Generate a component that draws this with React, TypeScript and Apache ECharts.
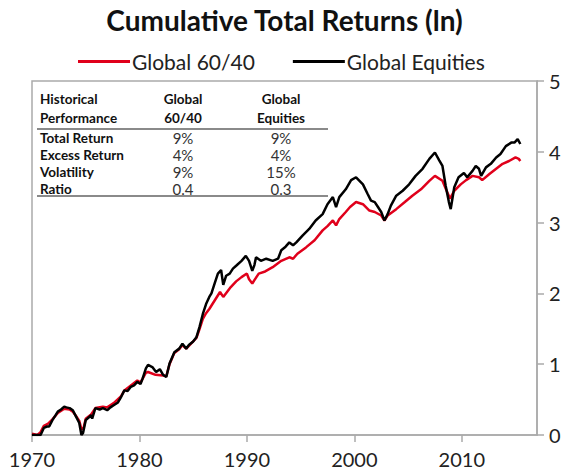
import React, { useEffect, useRef } from "react";
import * as echarts from "echarts";

const FONT = "Lato, 'Open Sans', sans-serif";

const seriesNames = ["Global 60/40", "Global Equities"];

// [year, ln cumulative return]
const balanced6040: [number, number][] = [
  [1970.0, 0.02], [1970.5, 0.0], [1970.8, 0.04], [1971.1, 0.13], [1971.5, 0.16], [1971.9, 0.22],
  [1972.4, 0.31], [1973.0, 0.37], [1973.5, 0.36], [1973.8, 0.33], [1974.1, 0.27], [1974.4, 0.2],
  [1974.6, 0.08], [1974.8, 0.1], [1975.0, 0.23], [1975.5, 0.29], [1975.9, 0.38], [1976.6, 0.4],
  [1977.0, 0.39], [1977.6, 0.45], [1978.3, 0.55], [1978.6, 0.63], [1979.2, 0.7], [1979.8, 0.77],
  [1980.1, 0.74], [1980.6, 0.88], [1980.8, 0.89], [1981.5, 0.85], [1982.2, 0.84], [1982.5, 0.83],
  [1982.8, 1.0], [1983.25, 1.16], [1983.7, 1.21], [1984.0, 1.27], [1984.35, 1.22], [1984.6, 1.26],
  [1985.3, 1.37], [1985.6, 1.5], [1985.9, 1.64], [1986.2, 1.72], [1986.5, 1.78], [1987.0, 1.9],
  [1987.5, 2.02], [1987.8, 1.95], [1988.5, 2.09], [1989.0, 2.17], [1989.5, 2.23], [1990.0, 2.28],
  [1990.2, 2.2], [1990.5, 2.14], [1991.1, 2.28], [1991.7, 2.31], [1992.4, 2.37], [1993.2, 2.46],
  [1993.95, 2.51], [1994.3, 2.49], [1994.7, 2.56], [1995.5, 2.65], [1996.3, 2.75], [1997.05, 2.89],
  [1997.5, 2.95], [1998.0, 3.03], [1998.3, 2.96], [1998.6, 3.05], [1999.2, 3.15], [1999.6, 3.22],
  [2000.16, 3.29], [2000.8, 3.26], [2001.4, 3.17], [2001.9, 3.15], [2002.5, 3.1], [2002.8, 3.03],
  [2003.1, 3.1], [2003.9, 3.19], [2004.7, 3.29], [2005.4, 3.38], [2006.2, 3.47], [2006.98, 3.59],
  [2007.5, 3.66], [2008.2, 3.59], [2008.5, 3.48], [2008.9, 3.34], [2009.3, 3.45], [2009.9, 3.54],
  [2010.4, 3.6], [2011.0, 3.66], [2011.6, 3.64], [2011.9, 3.6], [2012.6, 3.69], [2013.2, 3.76],
  [2013.8, 3.83], [2014.4, 3.87], [2015.0, 3.92], [2015.3, 3.9], [2015.45, 3.87],
];

const equities: [number, number][] = [
  [1970.0, 0.0], [1970.8, 0.0], [1971.1, 0.1], [1971.4, 0.12], [1971.6, 0.12], [1971.9, 0.21],
  [1972.2, 0.28], [1972.4, 0.33], [1972.7, 0.36], [1973.0, 0.4], [1973.2, 0.39], [1973.5, 0.38],
  [1973.8, 0.35], [1974.1, 0.26], [1974.4, 0.17], [1974.6, 0.0], [1974.75, 0.03], [1975.0, 0.21],
  [1975.3, 0.25], [1975.5, 0.28], [1975.6, 0.23], [1975.9, 0.38], [1976.3, 0.36], [1976.6, 0.38],
  [1977.0, 0.35], [1977.3, 0.39], [1977.6, 0.42], [1978.0, 0.46], [1978.3, 0.54], [1978.6, 0.63],
  [1978.9, 0.62], [1979.2, 0.68], [1979.5, 0.7], [1979.8, 0.75], [1980.1, 0.72], [1980.3, 0.8],
  [1980.6, 0.94], [1980.8, 0.99], [1981.2, 0.96], [1981.55, 0.89], [1981.9, 0.93], [1982.2, 0.85],
  [1982.5, 0.82], [1982.8, 1.01], [1983.25, 1.17], [1983.7, 1.22], [1984.0, 1.29], [1984.35, 1.22],
  [1984.6, 1.27], [1985.0, 1.32], [1985.3, 1.38], [1985.6, 1.53], [1985.9, 1.71], [1986.2, 1.85],
  [1986.5, 1.95], [1986.7, 2.0], [1987.0, 2.14], [1987.3, 2.28], [1987.6, 2.33], [1987.8, 2.12],
  [1988.07, 2.25], [1988.4, 2.28], [1988.7, 2.35], [1989.0, 2.39], [1989.5, 2.46], [1989.9, 2.53],
  [1990.2, 2.46], [1990.5, 2.32], [1990.7, 2.4], [1990.85, 2.51], [1991.3, 2.46], [1991.8, 2.49],
  [1992.4, 2.46], [1992.9, 2.49], [1993.2, 2.61], [1993.6, 2.66], [1993.95, 2.72], [1994.3, 2.68],
  [1994.6, 2.72], [1995.2, 2.82], [1995.8, 2.91], [1996.4, 3.03], [1997.05, 3.12], [1997.5, 3.26],
  [1998.0, 3.36], [1998.3, 3.22], [1998.6, 3.36], [1999.2, 3.47], [1999.7, 3.6], [2000.16, 3.64],
  [2000.8, 3.54], [2001.25, 3.4], [2001.55, 3.31], [2001.9, 3.29], [2002.2, 3.22], [2002.5, 3.15],
  [2002.8, 3.03], [2003.1, 3.12], [2003.4, 3.24], [2003.9, 3.38], [2004.5, 3.45], [2005.1, 3.54],
  [2005.7, 3.66], [2006.35, 3.76], [2006.98, 3.9], [2007.5, 3.99], [2007.9, 3.88], [2008.2, 3.8],
  [2008.5, 3.52], [2008.8, 3.29], [2008.97, 3.19], [2009.3, 3.5], [2009.7, 3.64], [2010.2, 3.7],
  [2010.5, 3.64], [2011.0, 3.73], [2011.3, 3.8], [2011.6, 3.76], [2011.8, 3.66], [2012.25, 3.78],
  [2012.7, 3.83], [2013.2, 3.92], [2013.6, 3.97], [2014.1, 4.08], [2014.6, 4.13], [2014.9, 4.13],
  [2015.2, 4.18], [2015.45, 4.11],
];

const tableHeader1 = ["Historical", "Global", "Global"];
const tableHeader2 = ["Performance", "60/40", "Equities"];
const tableRowLabels = ["Total Return", "Excess Return", "Volatility", "Ratio"];
const table6040 = ["9%", "4%", "9%", "0.4"];
const tableEquities = ["9%", "4%", "15%", "0.3"];

export default function App() {
  const ref = useRef<HTMLDivElement>(null);
  useEffect(() => {
    if (!ref.current) return;
    const chart = echarts.init(ref.current, undefined, { renderer: "svg" });

    const colX = [40, 183, 281];
    const rowY = [138, 155, 172, 189];
    const graphics: any[] = [];
    [tableHeader1, tableHeader2].forEach((row, r) => {
      row.forEach((t, c) => {
        graphics.push({
          type: "text",
          x: colX[c],
          y: r === 0 ? 99 : 118,
          style: {
            text: t,
            font: `bold 13.5px ${FONT}`,
            fill: "#111",
            align: c === 0 ? "left" : "center",
            verticalAlign: "middle",
          },
        });
      });
    });
    tableRowLabels.forEach((t, i) => {
      graphics.push({
        type: "text",
        x: colX[0],
        y: rowY[i],
        style: { text: t, font: `bold 13.5px ${FONT}`, fill: "#111", align: "left", verticalAlign: "middle" },
      });
      graphics.push({
        type: "text",
        x: colX[1],
        y: rowY[i],
        style: { text: table6040[i], font: `15px ${FONT}`, fill: "#333", align: "center", verticalAlign: "middle" },
      });
      graphics.push({
        type: "text",
        x: colX[2],
        y: rowY[i],
        style: { text: tableEquities[i], font: `15px ${FONT}`, fill: "#333", align: "center", verticalAlign: "middle" },
      });
    });
    [129, 196].forEach((y) => {
      graphics.push({
        type: "line",
        shape: { x1: 37, y1: y, x2: 328, y2: y },
        style: { stroke: "#8a8a8a", lineWidth: 2 },
      });
    });

    chart.setOption({
      animation: false,
      backgroundColor: "#fff",
      title: {
        text: "Cumulative Total Returns (ln)",
        left: "center",
        top: 1,
        textStyle: { fontFamily: FONT, fontSize: 28, fontWeight: "bold", color: "#111" },
      },
      legend: {
        data: seriesNames,
        left: 73,
        top: 46,
        icon: "rect",
        itemWidth: 52,
        itemHeight: 3,
        itemGap: 38,
        textStyle: { fontFamily: FONT, fontSize: 21, color: "#222", padding: [0, 0, 0, -3] },
      },
      grid: {
        left: 32,
        right: 32,
        top: 81,
        bottom: 40,
        show: true,
        borderColor: "#aaa",
        borderWidth: 1.5,
      },
      xAxis: {
        type: "value",
        min: 1970,
        max: 2017,
        interval: 10,
        axisLine: { show: true, lineStyle: { color: "#aaa", width: 1.5 } },
        axisTick: { show: true, length: 7, lineStyle: { color: "#aaa", width: 1.5 } },
        axisLabel: {
          showMaxLabel: false,
          fontFamily: FONT,
          fontSize: 20,
          color: "#222",
          margin: 14,
          formatter: (v: number) => String(v),
        },
        splitLine: { show: false },
      },
      yAxis: {
        type: "value",
        position: "right",
        min: 0,
        max: 5,
        interval: 1,
        axisLine: { show: true, lineStyle: { color: "#aaa", width: 1.5 } },
        axisTick: { show: true, length: 7, lineStyle: { color: "#aaa", width: 1.5 } },
        axisLabel: { fontFamily: FONT, fontSize: 20, color: "#222", margin: 12 },
        splitLine: { show: false },
      },
      series: [
        {
          name: seriesNames[0],
          type: "line",
          data: balanced6040,
          symbol: "none",
          showSymbol: false,
          lineStyle: { color: "#e0001b", width: 2.5 },
          itemStyle: { color: "#e0001b" },
        },
        {
          name: seriesNames[1],
          type: "line",
          data: equities,
          symbol: "none",
          showSymbol: false,
          lineStyle: { color: "#000", width: 2.5 },
          itemStyle: { color: "#000" },
        },
      ],
      graphic: graphics,
    });
    return () => chart.dispose();
  }, []);
  return (
    <div
      ref={ref}
      style={{ position: "absolute", left: 0, top: 0, width: 569, height: 475 }}
    />
  );
}
